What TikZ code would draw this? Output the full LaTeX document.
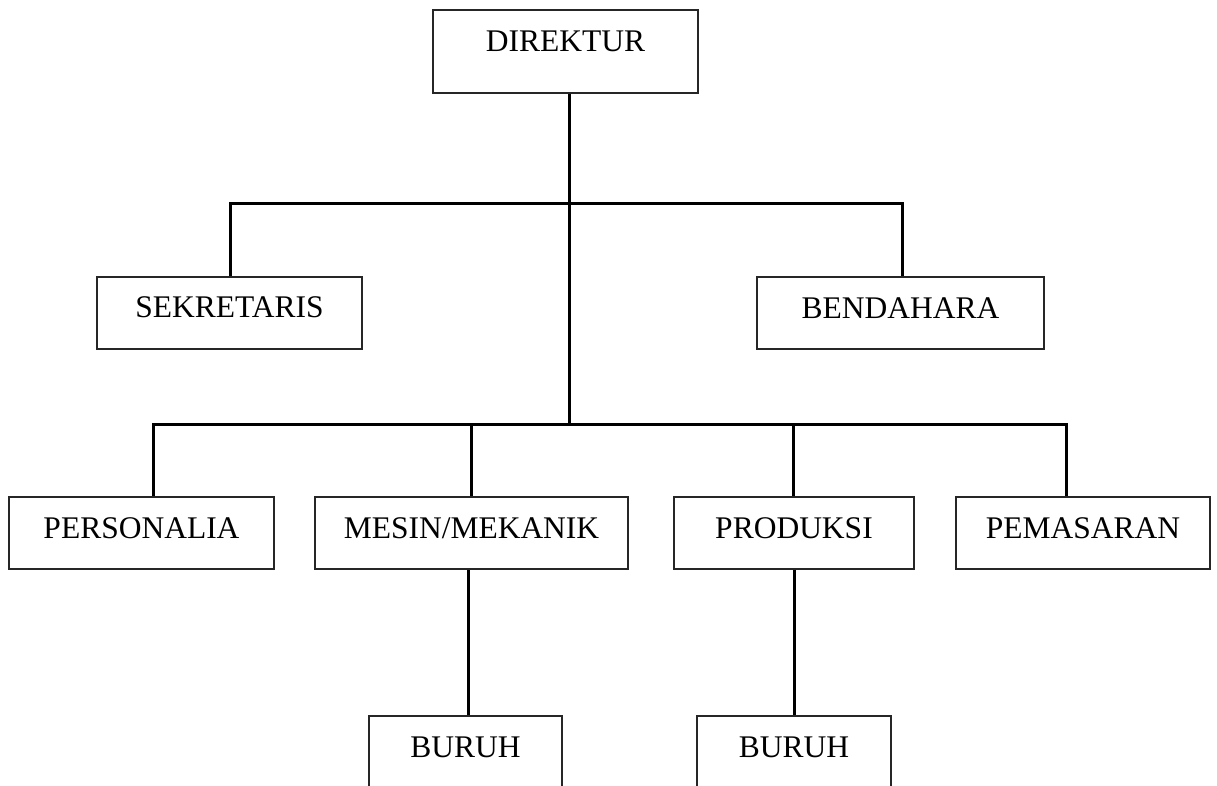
\documentclass[tikz,border=0pt]{standalone}
\usepackage{fontspec}
\setmainfont{Liberation Serif}
\begin{document}
\begin{tikzpicture}[x=1pt,y=-1pt,
  box/.style={draw=black!85,line width=2pt,rectangle,inner sep=0pt,
    font=\fontsize{31.5}{36}\selectfont,text height=21pt,text depth=11pt},
  conn/.style={draw=black,line width=3pt}]
\useasboundingbox (0,0) rectangle (1217,785);
\clip (0,0) rectangle (1217,785);
\node[box,minimum width=265pt,minimum height=83pt,text depth=22pt] (direktur) at (565.5,51.5) {DIREKTUR};
\node[box,minimum width=265pt,minimum height=72pt,text depth=13pt] (sekretaris) at (229.5,313) {SEKRETARIS};
\node[box,minimum width=287pt,minimum height=72pt] (bendahara) at (900.5,313) {BENDAHARA};
\node[box,minimum width=265pt,minimum height=72pt] (personalia) at (141.5,533) {PERSONALIA};
\node[box,minimum width=313pt,minimum height=72pt] (mesin) at (471.5,533) {MESIN/MEKANIK};
\node[box,minimum width=240pt,minimum height=72pt] (produksi) at (794,533) {PRODUKSI};
\node[box,minimum width=254pt,minimum height=72pt] (pemasaran) at (1083,533) {PEMASARAN};
\node[box,minimum width=193pt,minimum height=72pt] (buruh1) at (465.5,752) {BURUH};
\node[box,minimum width=194pt,minimum height=72pt] (buruh2) at (794,752) {BURUH};
\coordinate (t1) at (569,203);
\coordinate (t2) at (569,424);
\draw[conn] (direktur.south -| t1) -- (t2);
\draw[conn] ([xshift=0.5pt]sekretaris.north) |- (t1);
\draw[conn] ([xshift=1.5pt]bendahara.north) |- (t1);
\draw[conn] ([xshift=11.5pt]personalia.north) |- (t2);
\draw[conn] ([xshift=-17pt]pemasaran.north) |- (t2);
\draw[conn] (mesin.north) -- (mesin.north |- t2);
\draw[conn] ([xshift=-1pt]produksi.north) -- ([xshift=-1pt]produksi.north |- t2);
\draw[conn] ([xshift=2.5pt]buruh1.north) -- ([xshift=2.5pt]buruh1.north |- mesin.south);
\draw[conn] (buruh2.north) -- (produksi.south);
\end{tikzpicture}
\end{document}
